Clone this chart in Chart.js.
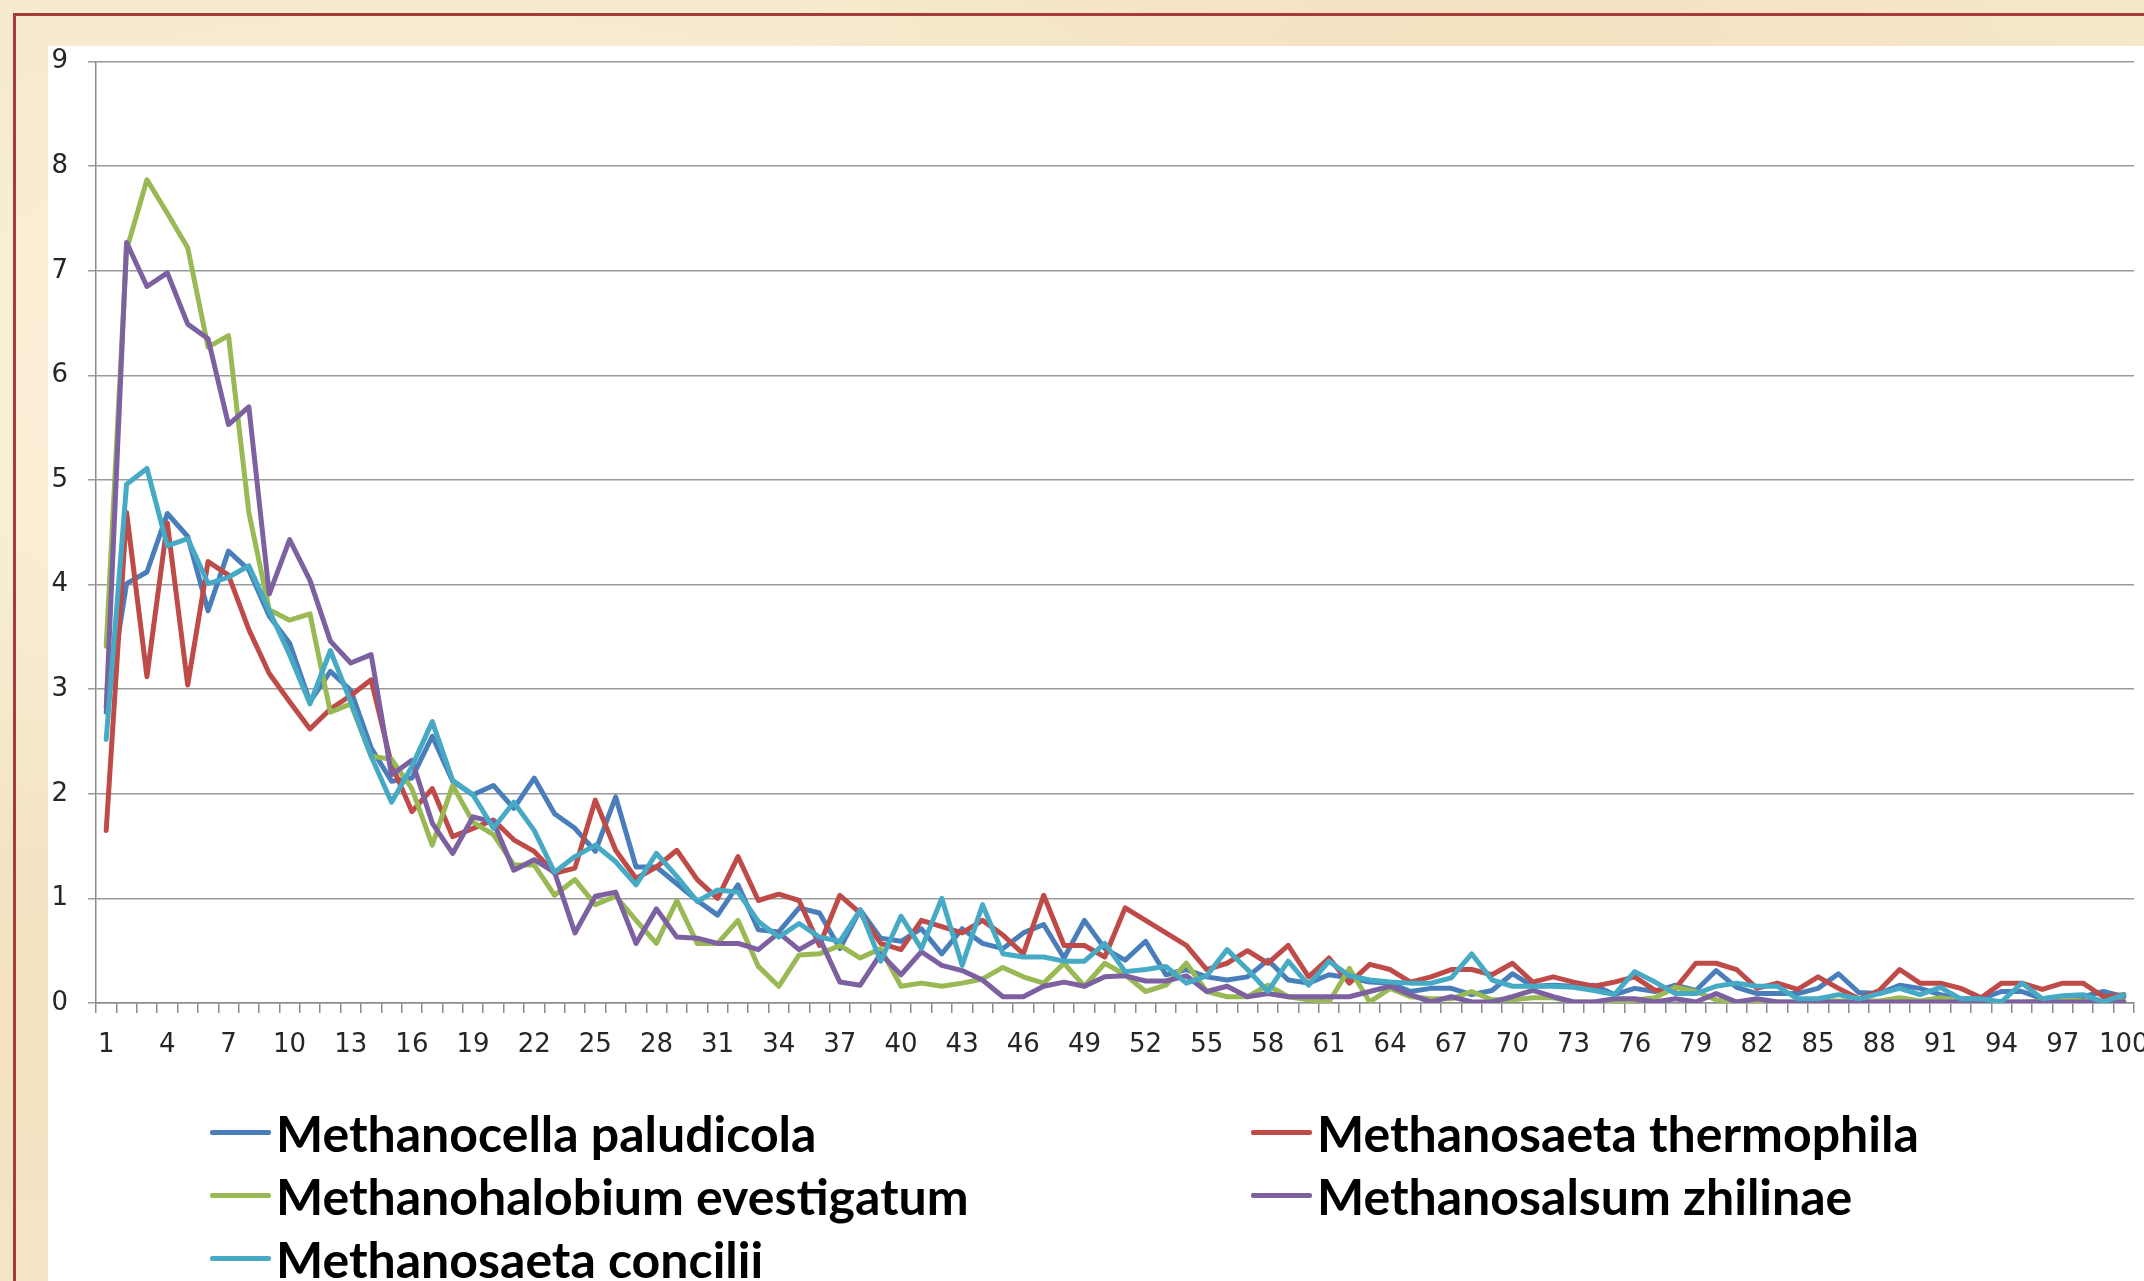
<!DOCTYPE html>
<html>
<head>
<meta charset="utf-8">
<script src="https://cdn.jsdelivr.net/npm/chart.js@4.4.1/dist/chart.umd.min.js"></script>
<style>
  html, body { margin: 0; padding: 0; }
  body {
    width: 2144px; height: 1281px; overflow: hidden; position: relative;
    background-color: #f6e8cb;
    background-image:
      radial-gradient(ellipse at 20% 30%, rgba(255,248,230,0.6), rgba(255,248,230,0) 40%),
      radial-gradient(ellipse at 70% 10%, rgba(238,214,170,0.35), rgba(238,214,170,0) 35%),
      radial-gradient(ellipse at 5% 80%, rgba(240,218,178,0.5), rgba(240,218,178,0) 30%);
  }
  #cadre {
    position: absolute; left: 13px; top: 13px; width: 2300px; height: 1400px;
    border: 3px solid #a63c3a; box-sizing: border-box;
  }
  #fundo {
    position: absolute; left: 48px; top: 46px; width: 2200px; height: 1300px;
    background: #ffffff;
  }
  #caixa {
    position: absolute; left: 48px; top: 26px; width: 2150px; height: 1037px;
  }
  #legenda {
    position: absolute; left: 210px; top: 1101px;
    display: grid; grid-template-columns: 1041px 1041px; grid-auto-rows: 63px;
    font-family: Lato, "Open Sans", sans-serif; font-weight: 700; font-size: 50px; color: #000;
  }
  .item { display: flex; align-items: center; white-space: nowrap; }
  .traco { display: inline-block; width: 61px; height: 5px; border-radius: 2px; margin-right: 5px; }
</style>
</head>
<body>
<div id="cadre"></div>
<div id="fundo"></div>
<div id="caixa"><canvas id="grafico"></canvas></div>
<div id="legenda"></div>

<script>
// dados
const categorias = []
for(let i = 1; i <= 100; i++){
    categorias.push(String(i))
}

const ticksY = [0, 1, 2, 3, 4, 5, 6, 7, 8, 9]

const nomes = [
    'Methanocella paludicola',
    'Methanosaeta thermophila',
    'Methanohalobium evestigatum',
    'Methanosalsum zhilinae',
    'Methanosaeta concilii'
]

const cores = ['#4a7ebb', '#be4b48', '#98b954', '#7d60a0', '#46aac5']

const paludicola = [
    2.78, 4.01, 4.12, 4.68, 4.46, 3.75, 4.32, 4.14, 3.70, 3.44,
    2.88, 3.17, 2.99, 2.44, 2.12, 2.15, 2.55, 2.12, 1.99, 2.08,
    1.86, 2.15, 1.81, 1.67, 1.45, 1.97, 1.30, 1.30, 1.14, 0.98,
    0.84, 1.13, 0.70, 0.68, 0.91, 0.86, 0.52, 0.89, 0.62, 0.59,
    0.71, 0.47, 0.71, 0.57, 0.52, 0.67, 0.75, 0.43, 0.79, 0.52,
    0.41, 0.59, 0.27, 0.32, 0.25, 0.22, 0.25, 0.41, 0.22, 0.19,
    0.27, 0.24, 0.20, 0.19, 0.11, 0.14, 0.14, 0.08, 0.12, 0.28,
    0.16, 0.17, 0.16, 0.17, 0.08, 0.14, 0.11, 0.17, 0.12, 0.31,
    0.15, 0.09, 0.09, 0.09, 0.14, 0.28, 0.10, 0.09, 0.17, 0.14,
    0.08, 0.04, 0.04, 0.11, 0.11, 0.04, 0.06, 0.06, 0.11, 0.06
]

const thermophila = [
    1.65, 4.69, 3.12, 4.59, 3.04, 4.22, 4.09, 3.57, 3.15, 2.88,
    2.62, 2.81, 2.94, 3.09, 2.28, 1.83, 2.05, 1.59, 1.67, 1.75,
    1.56, 1.45, 1.24, 1.29, 1.94, 1.46, 1.19, 1.30, 1.46, 1.18,
    1.00, 1.40, 0.98, 1.04, 0.98, 0.55, 1.03, 0.86, 0.57, 0.51,
    0.79, 0.73, 0.67, 0.79, 0.65, 0.47, 1.03, 0.55, 0.55, 0.44,
    0.91, 0.79, 0.67, 0.55, 0.32, 0.38, 0.50, 0.38, 0.55, 0.25,
    0.43, 0.19, 0.37, 0.32, 0.20, 0.25, 0.32, 0.32, 0.27, 0.38,
    0.20, 0.25, 0.20, 0.16, 0.20, 0.25, 0.12, 0.14, 0.38, 0.38,
    0.32, 0.14, 0.19, 0.13, 0.25, 0.14, 0.04, 0.12, 0.32, 0.19,
    0.19, 0.14, 0.05, 0.19, 0.19, 0.13, 0.19, 0.19, 0.06, 0.08
]

const evestigatum = [
    3.41, 7.20, 7.87, 7.55, 7.22, 6.27, 6.38, 4.69, 3.76, 3.66,
    3.72, 2.78, 2.86, 2.36, 2.33, 2.05, 1.51, 2.08, 1.73, 1.61,
    1.32, 1.32, 1.03, 1.18, 0.94, 1.02, 0.79, 0.57, 0.98, 0.57,
    0.57, 0.79, 0.35, 0.16, 0.46, 0.47, 0.55, 0.43, 0.52, 0.16,
    0.19, 0.16, 0.19, 0.23, 0.34, 0.25, 0.19, 0.38, 0.16, 0.38,
    0.27, 0.11, 0.17, 0.38, 0.11, 0.06, 0.06, 0.17, 0.06, 0.03,
    0.01, 0.33, 0.01, 0.14, 0.06, 0.04, 0.04, 0.11, 0.03, 0.03,
    0.05, 0.05, 0.01, 0.01, 0.01, 0.03, 0.05, 0.15, 0.11, 0.03,
    0.01, 0.01, 0.01, 0.01, 0.02, 0.02, 0.02, 0.02, 0.05, 0.02,
    0.05, 0.02, 0.01, 0.01, 0.01, 0.02, 0.04, 0.02, 0.01, 0.02
]

const zhilinae = [
    2.82, 7.27, 6.85, 6.98, 6.49, 6.35, 5.53, 5.70, 3.91, 4.43,
    4.04, 3.46, 3.25, 3.33, 2.18, 2.32, 1.72, 1.43, 1.78, 1.73,
    1.27, 1.37, 1.25, 0.67, 1.02, 1.06, 0.57, 0.90, 0.63, 0.62,
    0.57, 0.57, 0.51, 0.67, 0.51, 0.62, 0.20, 0.17, 0.47, 0.27,
    0.49, 0.36, 0.31, 0.22, 0.06, 0.06, 0.16, 0.20, 0.16, 0.25,
    0.26, 0.21, 0.21, 0.26, 0.11, 0.16, 0.06, 0.09, 0.06, 0.06,
    0.06, 0.06, 0.11, 0.16, 0.08, 0.01, 0.06, 0.01, 0.01, 0.06,
    0.12, 0.06, 0.01, 0.01, 0.04, 0.04, 0.01, 0.04, 0.01, 0.09,
    0.01, 0.04, 0.01, 0.01, 0.01, 0.01, 0.01, 0.01, 0.01, 0.01,
    0.01, 0.01, 0.01, 0.01, 0.01, 0.01, 0.01, 0.01, 0.01, 0.01
]

const concilii = [
    2.52, 4.96, 5.11, 4.37, 4.44, 4.01, 4.07, 4.18, 3.75, 3.33,
    2.86, 3.37, 2.88, 2.36, 1.92, 2.26, 2.69, 2.13, 1.99, 1.67,
    1.92, 1.65, 1.25, 1.40, 1.51, 1.35, 1.13, 1.43, 1.21, 0.97,
    1.08, 1.06, 0.78, 0.63, 0.76, 0.63, 0.59, 0.89, 0.40, 0.83,
    0.52, 1.00, 0.36, 0.94, 0.47, 0.44, 0.44, 0.40, 0.40, 0.57,
    0.30, 0.32, 0.35, 0.19, 0.26, 0.51, 0.32, 0.11, 0.40, 0.17,
    0.40, 0.26, 0.22, 0.20, 0.19, 0.19, 0.24, 0.47, 0.22, 0.16,
    0.16, 0.16, 0.15, 0.12, 0.08, 0.30, 0.20, 0.09, 0.09, 0.16,
    0.19, 0.16, 0.16, 0.04, 0.04, 0.08, 0.04, 0.09, 0.14, 0.08,
    0.15, 0.04, 0.04, 0.01, 0.19, 0.04, 0.07, 0.08, 0.01, 0.08
]

const series = [paludicola, thermophila, evestigatum, zhilinae, concilii]

// ordem de desenho (o último da série fica por cima, como no Excel)
const ordem = [5, 4, 3, 2, 1]

// montar datasets
const datasets = []
for(let i = 0; i < series.length; i++){
    datasets.push({
        label: nomes[i],
        data: series[i],
        borderColor: cores[i],
        backgroundColor: cores[i],
        borderWidth: 5,
        pointRadius: 0,
        pointHoverRadius: 0,
        tension: 0,
        fill: false,
        borderJoinStyle: 'round',
        borderCapStyle: 'round',
        order: ordem[i]
    })
}

const ctx = document.getElementById('grafico')

new Chart(ctx, {
    type: 'line',
    data: {
        labels: categorias,
        datasets: datasets
    },
    options: {
        responsive: true,
        maintainAspectRatio: false,
        animation: false,
        devicePixelRatio: 1,
        layout: {
            padding: { top: 0, left: 0, right: 64, bottom: 0 }
        },
        plugins: {
            legend: { display: false },
            tooltip: { enabled: false }
        },
        scales: {
            x: {
                offset: true,
                grid: {
                    offset: true,
                    drawOnChartArea: false,
                    drawTicks: true,
                    tickLength: 10,
                    color: '#8c8c8c',
                    lineWidth: 1.5
                },
                border: { color: '#8c8c8c', width: 1.5 },
                ticks: {
                    autoSkip: false,
                    maxRotation: 0,
                    minRotation: 0,
                    padding: 17,
                    color: '#262626',
                    font: { family: '"DejaVu Sans"', size: 26 },
                    callback: function(valor, indice){
                        return indice % 3 === 0 ? categorias[indice] : ''
                    }
                },
                afterFit: function(escala){
                    escala.height = 60
                }
            },
            y: {
                min: ticksY[0],
                max: ticksY[ticksY.length - 1],
                afterBuildTicks: function(escala){
                    escala.ticks = ticksY.map(v => ({ value: v }))
                },
                grid: {
                    color: '#9a9a9a',
                    lineWidth: 1.5,
                    drawTicks: true,
                    tickLength: 8
                },
                border: { color: '#8c8c8c', width: 1.5 },
                ticks: {
                    padding: 20,
                    color: '#262626',
                    font: { family: '"DejaVu Sans"', size: 26 }
                },
                afterFit: function(escala){
                    escala.width = 48
                }
            }
        }
    }
})

// legenda em duas colunas
const legenda = document.getElementById('legenda')
for(let i = 0; i < nomes.length; i++){
    const item = document.createElement('div')
    item.className = 'item'

    const traco = document.createElement('span')
    traco.className = 'traco'
    traco.style.background = cores[i]

    const texto = document.createElement('span')
    texto.textContent = nomes[i]

    item.appendChild(traco)
    item.appendChild(texto)
    legenda.appendChild(item)
}
</script>
</body>
</html>
